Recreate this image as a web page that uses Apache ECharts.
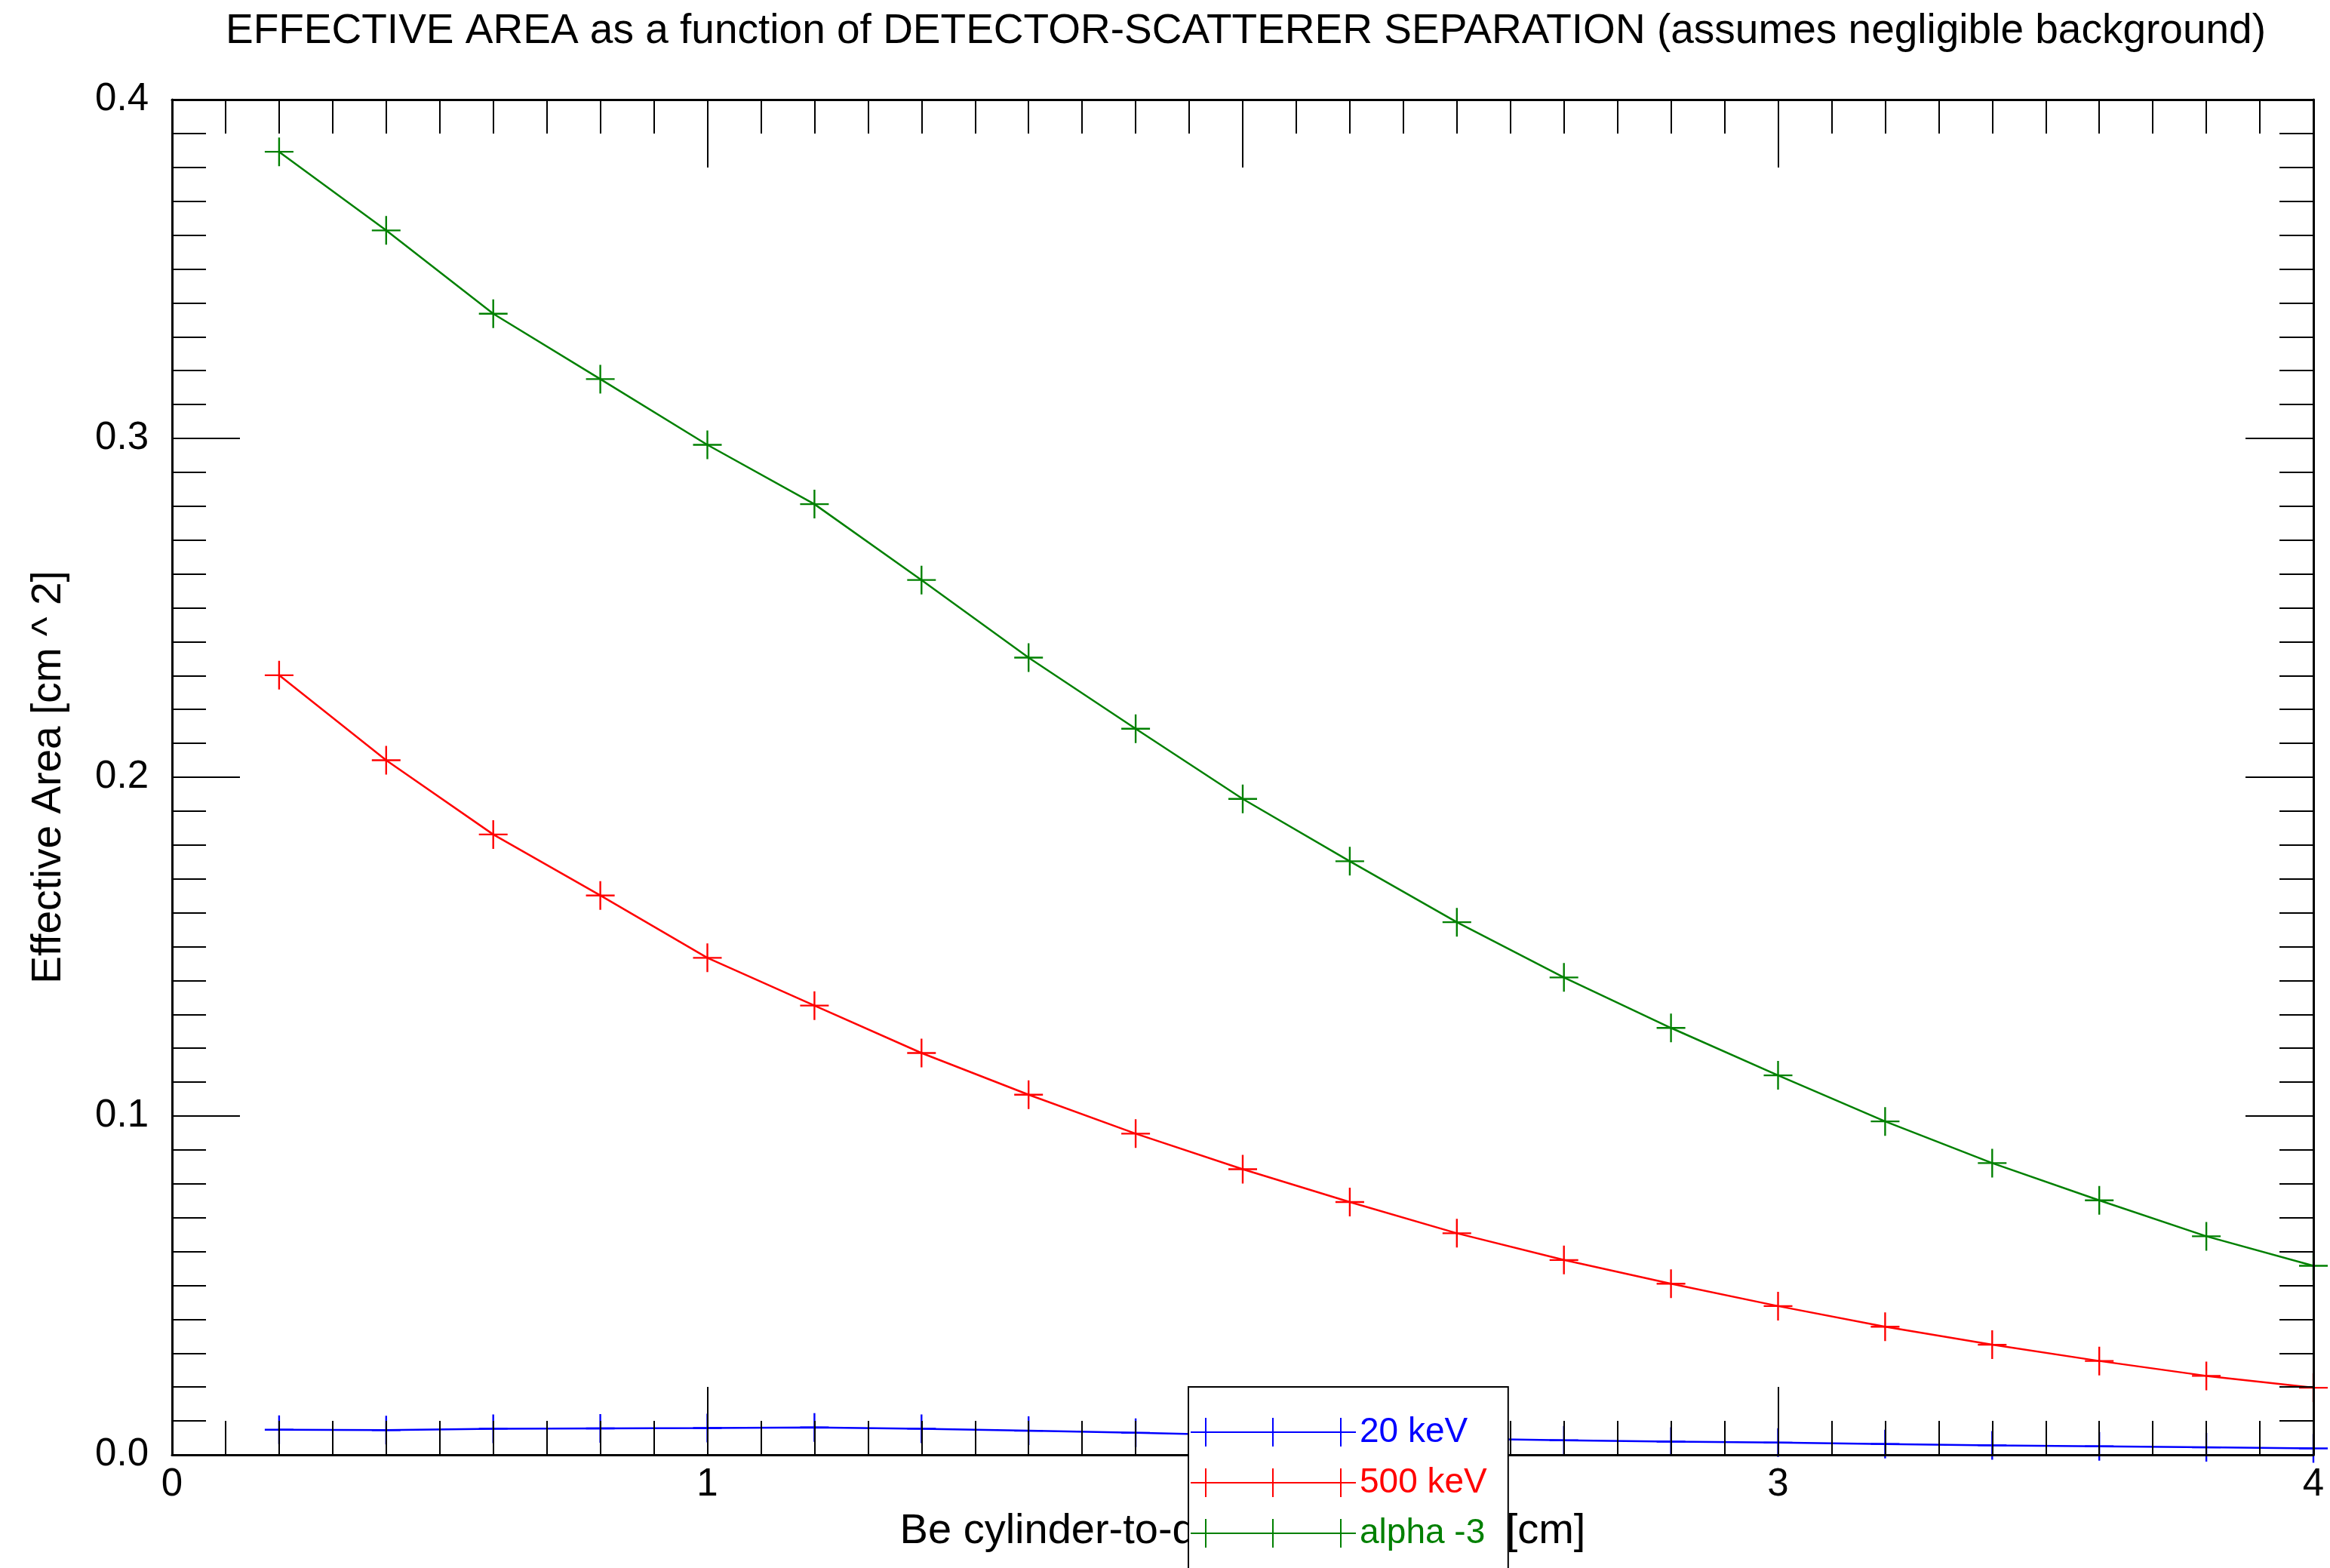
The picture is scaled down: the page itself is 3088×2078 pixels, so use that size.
<!DOCTYPE html>
<html>
<head>
<meta charset="utf-8">
<script src="https://cdn.jsdelivr.net/npm/echarts@6/dist/echarts.min.js"></script>
<style>
html,body{margin:0;padding:0;background:#fff;}
#chart{width:3088px;height:2078px;}
</style>
</head>
<body>
<div id="chart"></div>
<script>
const xValues = [0.2,0.4,0.6,0.8,1.0,1.2,1.4,1.6,1.8,2.0,2.2,2.4,2.6,2.8,3.0,3.2,3.4,3.6,3.8,4.0];
const kev20 = [0.0074,0.0073,0.0077,0.0078,0.0079,0.0081,0.0077,0.0071,0.0065,0.0058,0.0053,0.0048,0.0043,0.0039,0.0036,0.0032,0.0028,0.0025,0.0022,0.0019];
const kev500 = [0.2301,0.2050,0.1831,0.1651,0.1467,0.1326,0.1186,0.1063,0.0948,0.0843,0.0746,0.0654,0.0575,0.0505,0.0439,0.0378,0.0325,0.0277,0.0233,0.0198];
const alpha3 = [0.3846,0.3614,0.3368,0.3175,0.2981,0.2806,0.2582,0.2353,0.2143,0.1936,0.1752,0.1572,0.1409,0.1260,0.1120,0.0984,0.0861,0.0751,0.0645,0.0558];
const seriesNames = ['20 keV','500 keV','alpha -3'];
const seriesColors = ['#0000ff','#ff0000','#008000'];
const xRange = [0, 4];
const xStep = 1;
const yRange = [0, 0.4];
const yStep = 0.1;
const titleText = 'EFFECTIVE AREA as a function of DETECTOR-SCATTERER SEPARATION (assumes negligible background)';
const xTitle = 'Be cylinder-to-detector distance [cm]';
const yTitle = 'Effective Area [cm ^ 2]';

const FONT = '"Liberation Sans", Arial, Helvetica, sans-serif';
const plusPath = 'path://M18.75,0h2.5v40h-2.5Z M0,18.75h40v2.5H0Z';
const legendIcon = 'path://M0,18h219v2H0Z M19,0h2v38h-2Z M108,0h2v38h-2Z M198,0h2v38h-2Z';

function axisCommon(showLabel, isX) {
  return {
    type: 'value',
    min: isX ? xRange[0] : yRange[0],
    max: isX ? xRange[1] : yRange[1],
    interval: isX ? xStep : yStep,
    z: 5,
    axisLine: {show: true, onZero: false, lineStyle: {color: '#000', width: 3}},
    axisTick: {show: true, inside: true, length: 90, lineStyle: {color: '#000', width: 2}},
    minorTick: {show: true, splitNumber: 10, length: 45, lineStyle: {color: '#000', width: 2}},
    splitLine: {show: false},
    minorSplitLine: {show: false},
    axisLabel: {
      show: showLabel,
      color: '#000',
      fontFamily: FONT,
      fontSize: 51,
      margin: isX ? 14 : 31,
      showMinLabel: true,
      showMaxLabel: true,
      formatter: isX ? (v => String(Math.round(v))) : (v => v.toFixed(1))
    }
  };
}

const chart = echarts.init(document.getElementById('chart'), null, {renderer: 'canvas'});
const ySets = [kev20, kev500, alpha3];

chart.setOption({
  backgroundColor: '#fff',
  animation: false,
  title: {
    text: titleText,
    left: 1646,
    textAlign: 'center',
    top: 9,
    textStyle: {fontFamily: FONT, fontSize: 55, fontWeight: 'normal', color: '#000'}
  },
  grid: {left: 228, right: 22, top: 132, bottom: 150, containLabel: false},
  xAxis: [
    Object.assign(axisCommon(true, true), {
      position: 'bottom',
      name: xTitle,
      nameLocation: 'middle',
      nameGap: 74,
      nameTextStyle: {fontFamily: FONT, fontSize: 56, color: '#000'}
    }),
    Object.assign(axisCommon(false, true), {position: 'top'})
  ],
  yAxis: [
    Object.assign(axisCommon(true, false), {
      position: 'left',
      name: yTitle,
      nameLocation: 'middle',
      nameGap: 136,
      nameRotate: 90,
      nameTextStyle: {fontFamily: FONT, fontSize: 55, color: '#000'}
    }),
    Object.assign(axisCommon(false, false), {position: 'right'})
  ],
  legend: {
    show: true,
    orient: 'vertical',
    left: 1575,
    top: 1838,
    width: 400,
    height: 260,
    z: 10,
    backgroundColor: '#fff',
    borderColor: '#000',
    borderWidth: 2,
    borderRadius: 0,
    padding: [37, 28, 80, 3],
    itemWidth: 219,
    itemHeight: 38,
    itemGap: 21,
    symbolKeepAspect: false,
    icon: legendIcon,
    selectedMode: false,
    textStyle: {fontFamily: FONT, fontSize: 46},
    data: seriesNames.map((n, i) => ({name: n, icon: legendIcon, textStyle: {color: seriesColors[i], fontFamily: FONT, fontSize: 46}}))
  },
  series: seriesNames.map((n, i) => ({
    name: n,
    type: 'line',
    xAxisIndex: 0,
    yAxisIndex: 0,
    z: 2,
    clip: true,
    symbol: plusPath,
    symbolSize: 38,
    showSymbol: true,
    showAllSymbol: true,
    color: seriesColors[i],
    itemStyle: {color: seriesColors[i]},
    lineStyle: {color: seriesColors[i], width: 2.5},
    data: xValues.map((x, k) => [x, ySets[i][k]])
  }))
});
</script>
</body>
</html>
